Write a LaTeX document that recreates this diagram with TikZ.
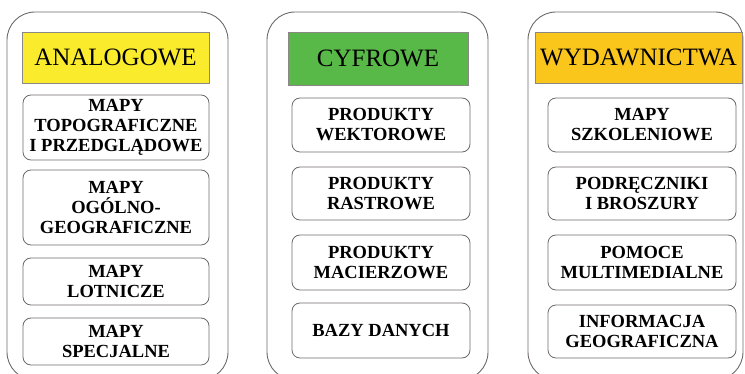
\documentclass[tikz,border=0pt]{standalone}
\usepackage{fontspec}
\setmainfont{Liberation Serif}
\definecolor{analogyellow}{RGB}{250,236,45}
\definecolor{digitgreen}{RGB}{88,184,72}
\definecolor{pubamber}{RGB}{250,198,28}
\definecolor{framegray}{RGB}{110,105,105}
\begin{document}
\begin{tikzpicture}[x=1pt, y=-1pt,
        column/.style={draw=framegray, line width=0.9pt, rounded corners=28pt},
        header/.style={draw=framegray!80, line width=0.5pt, inner sep=0pt, font=\fontsize{25}{28}\selectfont},
        item/.style={draw=framegray, line width=0.8pt, rounded corners=8pt, inner sep=0pt, align=center, font=\fontsize{18.5}{20}\selectfont\bfseries}]
    \useasboundingbox (0,0) rectangle (745,374);
    \draw[column] (7,12) rectangle (228,380);
    \draw[column] (267,12) rectangle (488,380);
    \draw[column] (528,12) rectangle (743,380);
    % analogowe
    \node[header, fill=analogyellow, minimum width=187pt, minimum height=51pt] (hA) at (115.5,57.5) {ANALOGOWE};
    \node[item, minimum width=186pt, minimum height=65pt] (a1) at (116,127.5) {MAPY\\TOPOGRAFICZNE\\I PRZEDGLĄDOWE};
    \node[item, minimum width=186pt, minimum height=75pt] (a2) at (116,207.5) {MAPY\\OGÓLNO-\\GEOGRAFICZNE};
    \node[item, minimum width=186pt, minimum height=47pt] (a3) at (116,281.5) {MAPY\\LOTNICZE};
    \node[item, minimum width=186pt, minimum height=47pt] (a4) at (116,341.5) {MAPY\\SPECJALNE};
    % cyfrowe
    \node[header, fill=digitgreen, minimum width=180pt, minimum height=53pt] (hC) at (378,58.5) {CYFROWE};
    \node[item, minimum width=178pt, minimum height=54pt] (b1) at (381,125) {PRODUKTY\\WEKTOROWE};
    \node[item, minimum width=178pt, minimum height=53pt] (b2) at (381,193.5) {PRODUKTY\\RASTROWE};
    \node[item, minimum width=178pt, minimum height=55pt] (b3) at (381,262.5) {PRODUKTY\\MACIERZOWE};
    \node[item, minimum width=178pt, minimum height=55pt] (b4) at (381,330.5) {BAZY DANYCH};
    % wydawnictwa
    \node[header, fill=pubamber, minimum width=207pt, minimum height=51pt] (hW) at (638.5,57.5) {WYDAWNICTWA};
    \node[item, minimum width=188pt, minimum height=54pt] (c1) at (642,125) {MAPY\\SZKOLENIOWE};
    \node[item, minimum width=188pt, minimum height=53pt] (c2) at (642,193.5) {PODRĘCZNIKI\\I BROSZURY};
    \node[item, minimum width=188pt, minimum height=55pt] (c3) at (642,262.5) {POMOCE\\MULTIMEDIALNE};
    \node[item, minimum width=188pt, minimum height=53pt] (c4) at (642,331.5) {INFORMACJA\\GEOGRAFICZNA};
\end{tikzpicture}
\end{document}
